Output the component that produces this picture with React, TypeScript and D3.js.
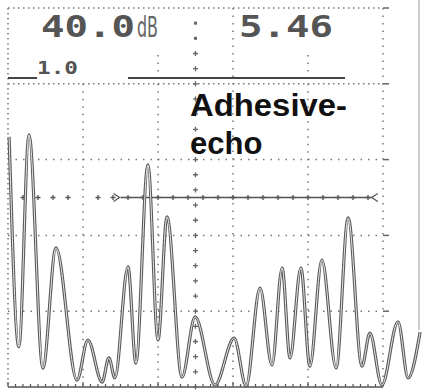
import React, { useEffect, useRef } from "react";
import * as d3 from "d3";

// header readout
const gainText = "40.0";
const gainUnit = "dB";
const readingText = "5.46";
const rangeText = "1.0";
const labelLines = ["Adhesive-", "echo"];

// A-scan trace: screen position (0-100 % width) and echo height (% screen height)
const traceTime = [0.3, 2.9, 5.6, 9.3, 12.8, 18.4, 21.3, 25.1, 26.9, 28.5, 32, 34.1, 37.3, 40, 42.4, 46.4, 49.9, 55.2, 60.3, 63.5, 67.2, 70.4, 73.1, 75.2, 78.1, 80.5, 83.7, 87.5, 90.7, 94.4, 96.5, 99.7, 104, 106.7, 109.9];
const traceAmp = [66, 10.6, 66.5, 5, 36.7, 1.8, 12.4, 1.3, 7.7, 2.4, 31.7, 6.3, 58.6, 12.4, 44.9, 2.6, 18.5, 0.5, 12.9, 0.3, 26.1, 5.8, 31.4, 7.7, 31.4, 5.5, 33.5, 5, 44.6, 5.5, 14.2, 0.5, 17.2, 2.4, 14.5];

const gridX = [0, 20, 40, 60, 80, 100];
const gridY = [0, 20, 40, 60, 80, 100];
const centerX = 50;
const gateLevel = 50;
const gateStart = 30;
const gateEnd = 97;
const gateDots = [4, 8, 12, 16, 24, 28];

export default function App() {
  const ref = useRef<SVGSVGElement>(null);

  useEffect(() => {
    const svg = d3.select(ref.current);
    svg.selectAll("*").remove();

    const x = d3.scaleLinear([0, 100], [8, 383]);
    const y = d3.scaleLinear([0, 100], [387, 8]);
    const grey = "#777";

    // right border of the display
    svg.append("line").attr("x1", 419).attr("x2", 419).attr("y1", 0).attr("y2", 330)
      .attr("stroke", "#ccc").attr("stroke-width", 2);

    const grid = svg.append("g");
    // horizontals
    gridY.filter((d) => d > 0).forEach((d) => {
      grid.append("line")
        .attr("x1", x(0)).attr("x2", x(100)).attr("y1", y(d)).attr("y2", y(d))
        .attr("stroke", grey).attr("stroke-width", 1.5)
        .attr("stroke-dasharray", d >= 80 ? "1.5 3.5" : "1.5 6");
      // dash on right edge
      grid.append("line")
        .attr("x1", x(100)).attr("x2", x(100) + 6).attr("y1", y(d)).attr("y2", y(d))
        .attr("stroke", "#666").attr("stroke-width", 1.5);
    });
    // verticals
    gridX.forEach((d) => {
      const inHeader = d === 0 || d === 60 || d === 100;
      grid.append("line")
        .attr("x1", x(d)).attr("x2", x(d))
        .attr("y1", inHeader ? y(100) : y(80)).attr("y2", y(0))
        .attr("stroke", grey).attr("stroke-width", 1.5)
        .attr("stroke-dasharray", d === 0 ? "1.5 3.5" : "1.5 6");
      if (d === 40 || d === 80) {
        grid.append("line")
          .attr("x1", x(d)).attr("x2", x(d)).attr("y1", 55).attr("y2", 76)
          .attr("stroke", grey).attr("stroke-width", 1.5).attr("stroke-dasharray", "1.5 6");
      }
    });

    // baseline with ticks
    grid.append("line").attr("x1", x(0)).attr("x2", x(100)).attr("y1", y(0)).attr("y2", y(0))
      .attr("stroke", "#555").attr("stroke-width", 1.5);
    grid.selectAll(".tick").data(d3.range(0, 101, 2)).join("line")
      .attr("x1", (d) => x(d)).attr("x2", (d) => x(d))
      .attr("y1", y(0)).attr("y2", (d) => y(0) - (d % 20 === 0 ? 5 : 3))
      .attr("stroke", "#555").attr("stroke-width", 1.2);

    // centre line: colon dots then crosses
    const centre = d3.range(0, 97, 4);
    centre.forEach((a) => {
      if (a >= 92) {
        grid.append("rect").attr("x", x(centerX) - 1.5).attr("y", y(a) - 1.5)
          .attr("width", 3).attr("height", 3).attr("fill", "#666");
      } else {
        grid.append("path")
          .attr("d", `M${x(centerX) - 2.5},${y(a)}h5M${x(centerX)},${y(a) - 2.5}v5`)
          .attr("stroke", "#666").attr("stroke-width", 1.3);
      }
    });

    // gate
    const gy = y(gateLevel);
    const cross = (cx: number) =>
      grid.append("path").attr("d", `M${cx - 2.5},${gy}h5M${cx},${gy - 2.5}v5`)
        .attr("stroke", "#555").attr("stroke-width", 1.3);
    gateDots.forEach((d) => cross(x(d)));
    d3.range(gateStart + 2, gateEnd, 4).forEach((d) => cross(x(d)));
    grid.append("line").attr("x1", x(gateStart)).attr("x2", x(gateEnd)).attr("y1", gy).attr("y2", gy)
      .attr("stroke", "#555").attr("stroke-width", 1.6);
    grid.append("path")
      .attr("d", `M${x(gateStart) - 7},${gy - 4}L${x(gateStart) - 1},${gy}L${x(gateStart) - 7},${gy + 4}`)
      .attr("fill", "none").attr("stroke", "#555").attr("stroke-width", 1.3);
    grid.append("path")
      .attr("d", `M${x(gateEnd) + 6},${gy - 4}L${x(gateEnd)},${gy}L${x(gateEnd) + 6},${gy + 4}`)
      .attr("fill", "none").attr("stroke", "#555").attr("stroke-width", 1.3);

    // trace (hollow double line like the LCD)
    const pts = traceTime.map((t, i) => [t, traceAmp[i]] as [number, number]);
    const line = d3.line<[number, number]>()
      .x((d) => x(d[0])).y((d) => y(d[1]))
      .curve(d3.curveMonotoneX);
    svg.append("path").attr("d", line(pts)).attr("fill", "none")
      .attr("stroke", "#5a5a5a").attr("stroke-width", 3.2).attr("stroke-linejoin", "round");
    svg.append("path").attr("d", line(pts)).attr("fill", "none")
      .attr("stroke", "#e8e8e8").attr("stroke-width", 1).attr("stroke-linejoin", "round");

    // header
    const mono = "'DejaVu Sans Mono', monospace";
    svg.append("text").attr("x", 41).attr("y", 37).text(gainText)
      .attr("font-family", mono).attr("font-weight", "bold").attr("font-size", 30)
      .attr("fill", "#555").attr("textLength", 94).attr("lengthAdjust", "spacingAndGlyphs");
    svg.append("text").attr("x", 137).attr("y", 37).text(gainUnit)
      .attr("font-family", "'DejaVu Sans', sans-serif").attr("font-size", 28)
      .attr("fill", "#666").attr("textLength", 21).attr("lengthAdjust", "spacingAndGlyphs");
    svg.append("text").attr("x", 239).attr("y", 37).text(readingText)
      .attr("font-family", mono).attr("font-weight", "bold").attr("font-size", 30)
      .attr("fill", "#555").attr("textLength", 94).attr("lengthAdjust", "spacingAndGlyphs");
    svg.append("text").attr("x", 37).attr("y", 74).text(rangeText)
      .attr("font-family", mono).attr("font-weight", "bold").attr("font-size", 18)
      .attr("fill", "#555").attr("textLength", 41).attr("lengthAdjust", "spacingAndGlyphs");
    svg.append("line").attr("x1", 8).attr("x2", 37).attr("y1", 78).attr("y2", 78)
      .attr("stroke", "#444").attr("stroke-width", 2);
    svg.append("line").attr("x1", 128).attr("x2", 345).attr("y1", 78).attr("y2", 78)
      .attr("stroke", "#444").attr("stroke-width", 2);

    // label
    labelLines.forEach((t, i) => {
      const txt = svg.append("text").attr("x", 190).attr("y", 116 + i * 38).text(t)
        .attr("font-family", "'Liberation Sans', Arial, sans-serif")
        .attr("font-weight", "bold").attr("font-size", 31).attr("fill", "#111");
      if (i === 0) txt.attr("textLength", 157).attr("lengthAdjust", "spacingAndGlyphs");
    });
  });

  return (
    <svg
      ref={ref}
      width={422}
      height={390}
      style={{ position: "absolute", left: 0, top: 0, background: "#fff" }}
    />
  );
}
